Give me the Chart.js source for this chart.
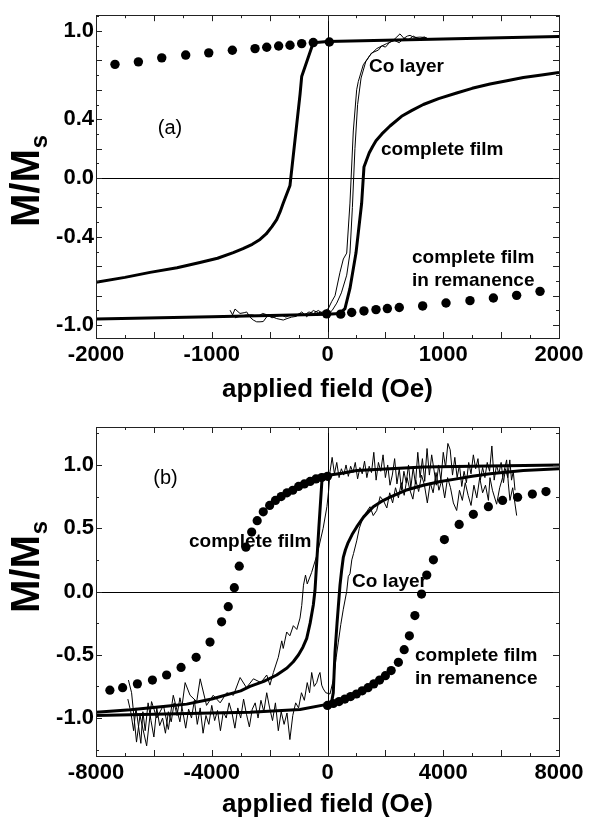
<!DOCTYPE html>
<html><head><meta charset="utf-8">
<script src="https://cdn.jsdelivr.net/npm/chart.js@4/dist/chart.umd.min.js"></script>
<style>
html,body{margin:0;padding:0;background:#fff;width:590px;height:825px;overflow:hidden}
.box{position:absolute;left:0;width:590px}
#wa{top:0;height:410px}
#wb{top:410px;height:415px}
</style></head><body>
<div class="box" id="wa"><canvas id="ca"></canvas></div>
<div class="box" id="wb"><canvas id="cb"></canvas></div>
<script>
// ---------- panel (a) data ----------
const aXTickLabels = [-2000, -1000, 0, 1000, 2000];
const aYTickLabels = [-1.0, -0.4, 0.0, 0.4, 1.0];
const aFilmDesc = [[2000,0.963],[1000,0.945],[500,0.937],[0,0.928],[-123,0.92],[-223,0.69],[-237,0.57],[-324,-0.05],[-382,-0.17],[-410,-0.23],[-439,-0.283],[-480,-0.33],[-530,-0.38],[-583,-0.417],[-650,-0.45],[-730,-0.48],[-814,-0.507],[-950,-0.545],[-1102,-0.574],[-1300,-0.61],[-1533,-0.641],[-1750,-0.675],[-2000,-0.708]];
const aFilmAsc = [[-2000,-0.958],[-1000,-0.943],[0,-0.925],[108,-0.92],[151,-0.887],[194,-0.75],[246,-0.51],[295,-0.171],[315,0.075],[360,0.17],[390,0.215],[419,0.254],[470,0.30],[540,0.354],[640,0.42],[730,0.46],[828,0.5],[960,0.54],[1116,0.578],[1250,0.61],[1404,0.639],[1550,0.662],[1692,0.683],[1850,0.70],[2000,0.717]];
const aCoA = [[-842,-0.898],[-820,-0.93],[-799,-0.89],[-756,-0.92],[-720,-0.915],[-698,-0.91],[-670,-0.945],[-641,-0.965],[-612,-0.977],[-583,-0.977],[-555,-0.975],[-525,-0.943],[-497,-0.93],[-470,-0.945],[-439,-0.955],[-410,-0.96],[-382,-0.965],[-350,-0.955],[-310,-0.945],[-270,-0.94],[-223,-0.91],[-200,-0.925],[-180,-0.943],[-150,-0.92],[-123,-0.90],[-80,-0.915],[-36,-0.91],[7,-0.887],[36,-0.84],[65,-0.80],[108,-0.64],[137,-0.55],[166,-0.51],[194,-0.17],[223,0.32],[252,0.6],[266,0.656],[309,0.77],[367,0.835],[425,0.88],[511,0.914],[560,0.93],[600,0.96],[626,0.98],[660,0.95],[690,0.965],[713,0.97],[750,0.955],[799,0.958],[857,0.955]];
const aCoB = [[-800,-0.95],[-760,-0.94],[-700,-0.93],[-650,-0.93],[-600,-0.94],[-560,-0.92],[-520,-0.93],[-480,-0.95],[-440,-0.94],[-400,-0.93],[-360,-0.945],[-320,-0.93],[-280,-0.935],[-240,-0.92],[-200,-0.93],[-160,-0.91],[-120,-0.92],[-80,-0.90],[-40,-0.92],[0,-0.93],[40,-0.90],[80,-0.85],[120,-0.78],[166,-0.66],[194,-0.51],[215,-0.2],[237,0.2],[260,0.5],[290,0.68],[330,0.79],[380,0.85],[440,0.87],[470,0.90],[500,0.89],[540,0.925],[580,0.935],[620,0.92],[660,0.95],[700,0.94],[740,0.965],[790,0.945],[840,0.96]];
const aRemUpper = [[-1836,0.773],[-1634,0.79],[-1432,0.817],[-1225,0.836],[-1026,0.851],[-822,0.869],[-626,0.88],[-525,0.889],[-422,0.898],[-324,0.903],[-223,0.914],[-123,0.921],[16,0.925]];
const aRemLower = [[-7,-0.923],[114,-0.925],[209,-0.914],[315,-0.903],[419,-0.894],[517,-0.887],[620,-0.88],[822,-0.869],[1024,-0.849],[1231,-0.833],[1433,-0.815],[1634,-0.797],[1836,-0.77]];

// ---------- panel (b) data ----------
const bXTickLabels = [-8000, -4000, 0, 4000, 8000];
const bYTickLabels = [-1.0, -0.5, 0.0, 0.5, 1.0];
const bFilmDesc = [[8000,1.0],[5000,0.99],[3311,0.983],[1009,0.957],[500,0.935],[86,0.92],[-180,0.92],[-300,0.50],[-432,0.01],[-490,-0.107],[-600,-0.25],[-718,-0.37],[-850,-0.44],[-1000,-0.50],[-1182,-0.555],[-1400,-0.605],[-1755,-0.66],[-2200,-0.71],[-2678,-0.75],[-3000,-0.785],[-4000,-0.85],[-4866,-0.89],[-5500,-0.905],[-6800,-0.935],[-8000,-0.955]];
const bFilmAsc = [[-8000,-0.98],[-4000,-0.96],[-2678,-0.955],[-950,-0.933],[28,-0.89],[145,-0.87],[200,-0.80],[259,-0.48],[330,-0.25],[374,-0.12],[432,0.05],[490,0.17],[546,0.27],[620,0.33],[700,0.38],[850,0.45],[1009,0.51],[1250,0.59],[1583,0.67],[1850,0.71],[2160,0.746],[2700,0.80],[3311,0.84],[3900,0.87],[4464,0.89],[5000,0.91],[5615,0.93],[6766,0.957],[8000,0.97]];
const bCoDesc = [[6480,0.80],[6420,0.95],[6360,0.88],[6300,1.04],[6230,0.90],[6150,0.97],[6080,0.86],[6000,1.02],[5920,0.93],[5840,1.00],[5760,0.88],[5680,1.15],[5600,0.95],[5520,1.02],[5440,0.90],[5360,0.98],[5280,0.88],[5200,1.05],[5120,0.97],[5040,1.08],[4960,0.93],[4880,1.02],[4800,0.86],[4720,0.95],[4640,0.83],[4560,1.00],[4480,0.90],[4400,1.06],[4320,0.92],[4240,1.12],[4160,1.17],[4080,0.98],[4000,1.10],[3920,0.88],[3840,1.00],[3760,0.84],[3680,0.96],[3600,1.08],[3520,0.92],[3440,1.13],[3360,0.87],[3280,1.05],[3200,0.90],[3120,1.10],[3040,0.85],[2960,0.98],[2880,0.82],[2800,1.00],[2720,0.86],[2640,0.95],[2560,0.80],[2480,0.97],[2400,0.85],[2320,1.05],[2240,0.92],[2160,0.84],[2080,1.00],[2000,0.90],[1920,1.08],[1840,0.95],[1760,1.02],[1680,0.88],[1600,1.10],[1520,0.94],[1440,0.99],[1360,0.90],[1280,1.03],[1200,0.93],[1120,0.98],[1040,0.89],[960,1.02],[880,0.94],[800,0.99],[720,0.91],[640,1.00],[560,0.92],[480,0.97],[400,0.90],[320,1.02],[240,0.93],[160,1.06],[90,0.95],[40,0.80],[-20,0.67],[-150,0.50],[-350,0.30],[-550,0.15],[-700,0.06],[-760,0.13],[-830,0.05],[-890,-0.11],[-950,-0.21],[-1060,-0.30],[-1180,-0.27],[-1300,-0.35],[-1410,-0.32],[-1530,-0.45],[-1580,-0.39],[-1700,-0.52],[-1870,-0.64],[-1990,-0.74],[-2100,-0.66],[-2300,-0.72],[-2560,-0.69],[-2800,-0.76],[-3020,-0.68],[-3250,-0.82],[-3480,-0.80],[-3710,-0.88],[-3950,-0.82],[-4180,-0.90],[-4400,-0.69],[-4520,-0.87],[-4750,-0.82],[-4920,-0.72],[-5100,-1.03],[-5330,-0.82],[-5500,-1.09],[-5670,-0.90],[-5900,-1.00],[-6080,-0.87],[-6250,-1.22],[-6480,-0.98],[-6600,-1.19],[-6770,-0.80],[-6880,-0.70]];
const bCoAsc = [[-6900,-0.85],[-6800,-0.95],[-6700,-1.10],[-6620,-0.92],[-6540,-1.05],[-6450,-1.20],[-6380,-0.95],[-6300,-1.10],[-6200,-0.88],[-6100,-1.02],[-6000,-1.15],[-5900,-0.92],[-5800,-1.06],[-5700,-1.00],[-5600,-1.12],[-5500,-0.95],[-5400,-1.03],[-5300,-0.88],[-5200,-0.98],[-5100,-0.84],[-5000,-0.95],[-4900,-1.08],[-4800,-0.93],[-4700,-1.00],[-4600,-0.86],[-4500,-1.05],[-4400,-0.92],[-4300,-1.12],[-4200,-0.98],[-4100,-1.05],[-4000,-0.90],[-3900,-1.02],[-3800,-0.94],[-3700,-1.10],[-3600,-0.95],[-3500,-1.00],[-3400,-0.88],[-3300,-0.96],[-3200,-1.08],[-3100,-0.92],[-3000,-1.00],[-2900,-0.85],[-2800,-0.97],[-2700,-1.07],[-2600,-0.93],[-2500,-0.88],[-2400,-1.00],[-2300,-0.86],[-2200,-0.95],[-2100,-0.80],[-2000,-0.92],[-1900,-1.02],[-1800,-0.88],[-1700,-1.10],[-1600,-0.95],[-1500,-1.05],[-1400,-0.96],[-1300,-1.17],[-1200,-0.98],[-1100,-0.88],[-1000,-0.92],[-900,-0.80],[-800,-0.86],[-700,-0.72],[-620,-0.80],[-546,-0.64],[-460,-0.75],[-373,-0.72],[-300,-0.66],[-260,-0.64],[-200,-0.74],[-145,-0.77],[-60,-0.80],[86,-0.81],[200,-0.70],[300,-0.52],[374,-0.40],[460,-0.26],[546,-0.14],[663,0.0],[720,0.12],[777,0.14],[840,0.25],[900,0.30],[1009,0.40],[1100,0.50],[1237,0.59],[1350,0.63],[1469,0.67],[1580,0.60],[1700,0.64],[1820,0.75],[1928,0.72],[2050,0.66],[2150,0.78],[2250,0.70],[2350,0.82],[2450,0.74],[2550,0.86],[2650,0.76],[2750,0.90],[2850,0.80],[2950,0.73],[3050,0.88],[3150,0.79],[3250,0.92],[3350,0.84],[3450,0.70],[3550,0.86],[3650,0.78],[3750,0.94],[3850,0.80],[3950,0.88],[4050,0.74],[4150,0.90],[4250,0.82],[4350,0.70],[4464,0.64],[4560,0.80],[4660,0.72],[4760,0.86],[4860,0.76],[4960,0.68],[5060,0.84],[5160,0.74],[5260,0.90],[5360,0.78],[5460,0.84],[5560,0.72],[5615,0.90],[5700,0.80],[5845,0.69],[5950,0.82],[6050,0.90],[6190,1.04],[6250,0.85],[6305,0.72],[6400,0.82],[6537,0.60]];
const bRemLeft = [[-7520,-0.78],[-7080,-0.76],[-6570,-0.73],[-6050,-0.70],[-5560,-0.66],[-5060,-0.60],[-4540,-0.52],[-4060,-0.40],[-3660,-0.24],[-3430,-0.12],[-3220,0.03],[-3050,0.20],[-2820,0.35],[-2620,0.47],[-2430,0.56],[-2220,0.63],[-2000,0.68],[-1800,0.72],[-1600,0.75],[-1400,0.78],[-1200,0.80],[-1000,0.83],[-800,0.85],[-600,0.87],[-400,0.89],[-200,0.90],[0,0.91]];
const bRemRight = [[0,-0.90],[200,-0.885],[400,-0.87],[600,-0.85],[800,-0.83],[1000,-0.81],[1200,-0.785],[1400,-0.76],[1600,-0.73],[1800,-0.70],[2000,-0.665],[2200,-0.625],[2450,-0.56],[2650,-0.46],[2830,-0.35],[3020,-0.19],[3250,-0.02],[3430,0.13],[3660,0.25],[4040,0.41],[4550,0.53],[5040,0.61],[5560,0.67],[6050,0.72],[6570,0.745],[7080,0.77],[7550,0.79]];

// annotations in data coordinates
const aNotes = [["(a)",-1361,0.338,"normal","center"],["Co layer",358,0.759,"bold","left"],["complete film",462,0.19,"bold","left"],["complete film",730,-0.545,"bold","left"],["in remanence",730,-0.699,"bold","left"]];
const bNotes = [["(b)",-5598,0.897,"normal","center"],["complete film",-4786,0.394,"bold","left"],["Co layer",847,0.075,"bold","left"],["complete film",3023,-0.507,"bold","left"],["in remanence",3023,-0.692,"bold","left"]];

const FONT = '"Liberation Sans", Arial, sans-serif';
const pts = a => a.map(p => ({x:p[0], y:p[1]}));
const lineDS = (a,w) => ({data:pts(a), showLine:true, borderColor:'#000', borderWidth:w, pointRadius:0, tension:0, fill:false, borderJoinStyle:'round'});
const dotDS = (a,r) => ({data:pts(a), showLine:false, pointRadius:r, pointHoverRadius:r, backgroundColor:'#000', pointBackgroundColor:'#000', pointBorderWidth:0, borderColor:'#000'});

function makeDecor(cfg){
  return {
    id:'decor',
    beforeDatasetsDraw(chart){
      const {ctx, chartArea:ca, scales:{x,y}} = chart;
      ctx.save(); ctx.strokeStyle='#000'; ctx.lineWidth=1;
      const y0 = Math.round(y.getPixelForValue(0))+0.5, x0 = Math.round(x.getPixelForValue(0))+0.5;
      ctx.beginPath(); ctx.moveTo(ca.left,y0); ctx.lineTo(ca.right,y0); ctx.moveTo(x0,ca.top); ctx.lineTo(x0,ca.bottom); ctx.stroke();
      ctx.restore();
    },
    afterDraw(chart){
      const {ctx, chartArea:ca, scales:{x,y}} = chart;
      ctx.save();
      ctx.strokeStyle='#222'; ctx.lineWidth=1;
      ctx.strokeRect(Math.round(ca.left)+0.5, Math.round(ca.top)+0.5, Math.round(ca.right-ca.left), Math.round(ca.bottom-ca.top));
      ctx.beginPath();
      for(let v=cfg.xMinT; v<=cfg.xMaxT+1e-9; v+=cfg.xStep){
        const major = Math.abs(v/cfg.xMajor - Math.round(v/cfg.xMajor))<1e-6;
        const L = major?6:3; const px = Math.round(x.getPixelForValue(v))+0.5;
        ctx.moveTo(px,ca.bottom); ctx.lineTo(px,ca.bottom-L);
        ctx.moveTo(px,ca.top); ctx.lineTo(px,ca.top+L);
      }
      for(let v=cfg.yMinT; v<=cfg.yMaxT+1e-9; v+=cfg.yStep){
        const major = Math.abs(v/cfg.yMajor - Math.round(v/cfg.yMajor))<1e-6;
        const L = major?6:3; const py = Math.round(y.getPixelForValue(v))+0.5;
        ctx.moveTo(ca.left,py); ctx.lineTo(ca.left+L,py);
        ctx.moveTo(ca.right,py); ctx.lineTo(ca.right-L,py);
      }
      ctx.stroke();
      ctx.fillStyle='#000';
      ctx.textBaseline='middle';
      cfg.notes.forEach(n=>{
        ctx.font = (n[3]==='bold'?'bold 19px ':'20px ')+FONT;
        ctx.textAlign = n[4];
        ctx.fillText(n[0], x.getPixelForValue(n[1]), y.getPixelForValue(n[2]));
      });
      ctx.font='bold 26px '+FONT; ctx.textAlign='center'; ctx.textBaseline='middle';
      ctx.fillText('applied field (Oe)', (ca.left+ca.right)/2, cfg.xTitleY);
      ctx.translate(cfg.yTitleX, cfg.yTitleBottom); ctx.rotate(-Math.PI/2);
      ctx.textAlign='left'; ctx.textBaseline='alphabetic';
      ctx.font='bold 40px '+FONT; ctx.fillText('M/M',0,0);
      const w = ctx.measureText('M/M').width;
      ctx.font='bold 24px '+FONT; ctx.fillText('s', w+1, 8);
      ctx.restore();
    }
  };
}

function makeChart(id, datasets, o){
  return new Chart(document.getElementById(id), {
    type:'scatter',
    data:{datasets},
    options:{
      responsive:true, maintainAspectRatio:false, animation:false, devicePixelRatio:1,
      layout:{padding:{top:o.padTop, right:31, bottom:0, left:0}},
      plugins:{legend:{display:false}, tooltip:{enabled:false}},
      events:[],
      scales:{
        x:{type:'linear', min:o.xMin, max:o.xMax,
          afterBuildTicks:s=>{s.ticks=o.xLabels.map(v=>({value:v}));},
          afterFit:s=>{s.height=o.xAxisH;},
          ticks:{font:{family:FONT, size:22, weight:'bold'}, color:'#000', padding:4, maxRotation:0, autoSkip:false, callback:v=>String(v)},
          grid:{display:false, drawTicks:false}, border:{display:false}},
        y:{type:'linear', min:o.yMin, max:o.yMax,
          afterBuildTicks:s=>{s.ticks=o.yLabels.map(v=>({value:v}));},
          afterFit:s=>{s.width=96;},
          ticks:{font:{family:FONT, size:22, weight:'bold'}, color:'#000', padding:2, autoSkip:false, callback:v=>Number(v).toFixed(1)},
          grid:{display:false, drawTicks:false}, border:{display:false}}
      }
    },
    plugins:[makeDecor(o.decor)]
  });
}

makeChart('ca', [
  lineDS(aCoA,1), lineDS(aCoB,1),
  lineDS(aFilmDesc,3), lineDS(aFilmAsc,3),
  dotDS(aRemUpper,4.7), dotDS(aRemLower,4.7)
], {padTop:10, xMin:-2000, xMax:2000, yMin:-1.087, yMax:1.107, xLabels:aXTickLabels, yLabels:aYTickLabels, xAxisH:72,
   decor:{xMinT:-2000,xMaxT:2000,xStep:250,xMajor:500,yMinT:-1.0,yMaxT:1.1,yStep:0.1,yMajor:0.2,notes:aNotes,xTitleY:390,yTitleX:39,yTitleBottom:227}});

makeChart('cb', [
  lineDS(bCoDesc,1), lineDS(bCoAsc,1),
  lineDS(bFilmDesc,3), lineDS(bFilmAsc,3),
  dotDS(bRemLeft,4.6), dotDS(bRemRight,4.6)
], {padTop:17, xMin:-8000, xMax:8000, yMin:-1.3, yMax:1.3, xLabels:bXTickLabels, yLabels:bYTickLabels, xAxisH:69,
   decor:{xMinT:-8000,xMaxT:8000,xStep:1000,xMajor:2000,yMinT:-1.25,yMaxT:1.25,yStep:0.25,yMajor:0.5,notes:bNotes,xTitleY:395,yTitleX:39,yTitleBottom:203}});
</script></body></html>
